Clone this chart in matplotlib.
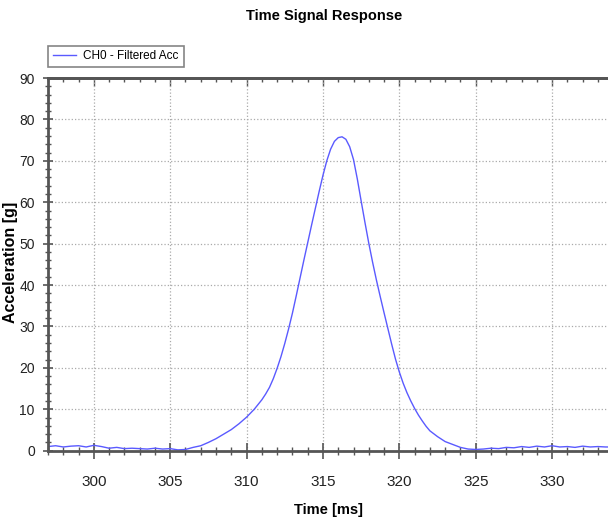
import matplotlib.pyplot as plt
from matplotlib.ticker import MultipleLocator

# time [ms] and filtered acceleration [g]
time_ms = [297.0, 297.5, 298.0, 298.5, 299.0, 299.5, 300.0, 300.5, 301.0, 301.5,
           302.0, 302.5, 303.0, 303.5, 304.0, 304.5, 305.0, 305.5, 306.0, 306.5,
           307.0, 307.5, 308.0, 308.5, 309.0, 309.5, 310.0, 310.5,
           311.0, 311.25, 311.5, 311.75, 312.0, 312.25, 312.5, 312.75,
           313.0, 313.25, 313.5, 313.75, 314.0, 314.25, 314.5, 314.75,
           315.0, 315.25, 315.5, 315.75, 316.0, 316.25, 316.5, 316.75,
           317.0, 317.25, 317.5, 317.75, 318.0, 318.25, 318.5, 318.75,
           319.0, 319.25, 319.5, 319.75, 320.0, 320.25, 320.5, 320.75,
           321.0, 321.25, 321.5, 321.75, 322.0, 322.5, 323.0, 323.5,
           324.0, 324.5, 325.0, 325.5, 326.0, 326.5, 327.0, 327.5, 328.0, 328.5,
           329.0, 329.5, 330.0, 330.5, 331.0, 331.5, 332.0, 332.5, 333.0, 333.5, 334.0]
acc_g = [1.0, 1.2, 0.9, 1.1, 1.2, 0.9, 1.3, 1.0, 0.6, 0.8,
         0.5, 0.6, 0.5, 0.4, 0.6, 0.4, 0.5, 0.2, 0.3, 0.8,
         1.2, 2.0, 2.9, 4.0, 5.1, 6.5, 8.1, 10.0,
         12.3, 13.7, 15.3, 17.4, 19.9, 22.7, 25.9, 29.4,
         33.2, 37.4, 41.7, 46.0, 50.2, 54.4, 58.5, 62.6,
         66.5, 70.0, 72.8, 74.7, 75.6, 75.8, 75.2, 73.4,
         70.3, 65.6, 60.3, 55.1, 50.1, 45.5, 41.2, 37.2,
         33.3, 29.5, 25.7, 22.1, 19.0, 16.3, 14.0, 12.0,
         10.2, 8.6, 7.2, 5.9, 4.8, 3.4, 2.2, 1.5,
         0.8, 0.4, 0.3, 0.4, 0.6, 0.5, 0.8, 0.7, 1.0, 0.8,
         1.1, 0.9, 1.2, 0.9, 1.0, 0.8, 1.1, 0.9, 1.0, 0.9, 0.9]

font = ['Liberation Sans', 'DejaVu Sans']
axis_col = '#555555'

fig = plt.figure(figsize=(6.08, 5.23), dpi=100)
ax = fig.add_axes([48 / 608, 1 - 450.7 / 523, 1 - 48 / 608, (450.7 - 78) / 523])

ax.plot(time_ms, acc_g, color='#5a5aff', linewidth=1.0, label='CH0 - Filtered Acc')

ax.set_xlim(297, 333.66)
ax.set_ylim(0, 90)
ax.xaxis.set_major_locator(MultipleLocator(5))
ax.xaxis.set_minor_locator(MultipleLocator(1))
ax.yaxis.set_major_locator(MultipleLocator(10))
ax.yaxis.set_minor_locator(MultipleLocator(2))

ax.grid(True, which='major', linestyle=':', color='#aaaaaa', linewidth=0.9)

for side in ['left', 'bottom', 'top']:
    ax.spines[side].set_color(axis_col)
    ax.spines[side].set_linewidth(2)
ax.spines['right'].set_visible(False)

ax.tick_params(axis='x', which='major', direction='inout', length=11, width=1.2,
               color=axis_col, pad=12)
ax.tick_params(axis='x', which='minor', direction='inout', length=6, width=1,
               color=axis_col)
ax.tick_params(axis='y', which='major', direction='inout', length=7, width=1.2,
               color=axis_col, pad=6)
ax.tick_params(axis='y', which='minor', direction='inout', length=4, width=1,
               color=axis_col)

top = ax.secondary_xaxis('top')
top.xaxis.set_major_locator(MultipleLocator(5))
top.xaxis.set_minor_locator(MultipleLocator(1))
top.tick_params(which='major', direction='in', length=6, width=1, color=axis_col,
                labeltop=False)
top.tick_params(which='minor', direction='in', length=3, width=1, color=axis_col)
top.spines['top'].set_color(axis_col)
top.spines['top'].set_linewidth(2)

for lab in ax.get_xticklabels():
    lab.set_family(font)
    lab.set_fontsize(11)
    lab.set_color('#222222')
for lab in ax.get_yticklabels():
    lab.set_family(font)
    lab.set_fontsize(10)
    lab.set_color('#222222')

ax.set_xlabel('Time [ms]', family=font, fontsize=10.5, fontweight='bold', labelpad=10)
fig.text(11 / 608, 1 - 262 / 523, 'Acceleration [g]', family=font, fontsize=11.5,
         fontweight='bold', rotation=90, ha='center', va='center')
fig.text(324 / 608, 1 - 16 / 523, 'Time Signal Response', family=font,
         fontsize=10.5, fontweight='bold', ha='center', va='center')

leg = ax.legend(loc='lower left', bbox_to_anchor=(48 / 608, 1 - 67 / 523),
                bbox_transform=fig.transFigure, frameon=True, fancybox=False,
                borderaxespad=0, handlelength=2.0, handletextpad=0.6, borderpad=0.4,
                prop={'family': font, 'size': 8.5})
leg.get_frame().set_edgecolor('#666666')
leg.get_frame().set_linewidth(1.2)

fig.savefig('out.png', dpi=100)
